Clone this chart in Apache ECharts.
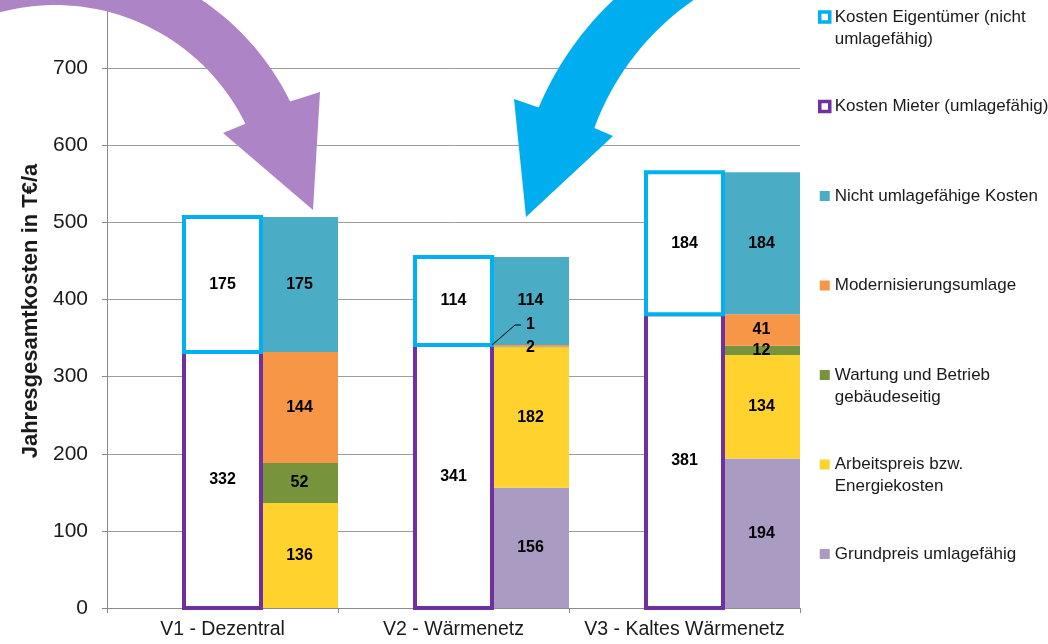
<!DOCTYPE html>
<html>
<head>
<meta charset="utf-8">
<script src="https://cdn.jsdelivr.net/npm/echarts@6.0.0/dist/echarts.min.js"></script>
<style>
  html, body { margin: 0; padding: 0; background: #ffffff; }
  #chart { width: 1048px; height: 644px; }
</style>
</head>
<body>
<div id="chart"></div>
<script>
// ---- data ---------------------------------------------------------------
const categories = ['V1 - Dezentral', 'V2 - Wärmenetz', 'V3 - Kaltes Wärmenetz'];

// left (outlined) column per variant
const kostenMieter      = [332, 341, 381];
const kostenEigentuemer = [175, 114, 184];

// right (coloured) column per variant, bottom to top
const grundpreis        = [0, 156, 194];
const arbeitspreis      = [136, 182, 134];
const wartung           = [52, 1, 12];
const modernisierung    = [144, 2, 41];
const nichtUmlagefaehig = [175, 114, 184];

const yMin = 0, yMax = 800, yStep = 100;

// ---- names & legend texts ----------------------------------------------
const N = {
  eigen:  'Kosten Eigentümer (nicht umlagefähig)',
  mieter: 'Kosten Mieter (umlagefähig)',
  nicht:  'Nicht umlagefähige Kosten',
  modern: 'Modernisierungsumlage',
  wart:   'Wartung und Betrieb gebäudeseitig',
  arbeit: 'Arbeitspreis bzw. Energiekosten',
  grund:  'Grundpreis umlagefähig'
};
// every legend entry gets three text rows so the icon sits on the first visible row
const legendText = {};
legendText[N.eigen]  = '\nKosten Eigentümer (nicht\numlagefähig)';
legendText[N.mieter] = '\nKosten Mieter (umlagefähig)\n';
legendText[N.nicht]  = '\nNicht umlagefähige Kosten\n';
legendText[N.modern] = '\nModernisierungsumlage\n';
legendText[N.wart]   = '\nWartung und Betrieb\ngebäudeseitig';
legendText[N.arbeit] = '\nArbeitspreis bzw.\nEnergiekosten';
legendText[N.grund]  = '\nGrundpreis umlagefähig\n';

const FONT = "'Liberation Sans', Arial, Helvetica, sans-serif";
const TEXT = '#1a1a1a';
const GRID = { left: 107, right: 248, top: -9, bottom: 36 };
const LABEL_FONT = "bold 16px 'Liberation Sans', Arial, sans-serif";

const barLabel = {
  show: true, position: 'inside', color: '#000',
  fontFamily: FONT, fontWeight: 'bold', fontSize: 16,
  formatter: p => (p.value ? String(p.value) : '')
};

// per-item label shifts for the tiny V2 segments
function shifted(values, shifts) {
  return values.map((v, i) => shifts[i] ? { value: v, label: { offset: shifts[i] } } : v);
}

function stackBar(name, stack, data, itemStyle) {
  return {
    name, type: 'bar', stack, data, itemStyle, label: barLabel,
    barGap: '0%', barCategoryGap: '0%'
  };
}

// outlined white box in the middle third of each category band,
// stroke centred on the box edges
function outlinedBox(stroke) {
  return function (params, api) {
    const cat = api.value(0), val = api.value(1), base = api.value(2);
    const pBase = api.coord([cat, base]);
    const pTop = api.coord([cat, base + val]);
    const band = api.size([1, 0])[0];
    const x = pBase[0] - band / 2 + band / 3;
    return {
      type: 'rect',
      shape: { x: x, y: pTop[1], width: band / 3, height: pBase[1] - pTop[1] },
      style: { fill: '#ffffff', stroke: stroke, lineWidth: 4 },
      textContent: { style: { text: String(val), fill: '#000', font: LABEL_FONT } },
      textConfig: { position: 'inside' }
    };
  };
}

// ---- decorative arrows ---------------------------------------------------
function arcPts(cx, cy, r, p0, p1, n) {
  const a0 = Math.atan2(p0[1] - cy, p0[0] - cx);
  const a1 = Math.atan2(p1[1] - cy, p1[0] - cx);
  const pts = [];
  for (let i = 0; i <= n; i++) {
    const a = a0 + (a1 - a0) * i / n;
    pts.push([cx + r * Math.cos(a), cy + r * Math.sin(a)]);
  }
  return pts;
}
const purpleArrow = [].concat(
  arcPts(55, 217, 262, [-60, -18], [293, 100], 48),
  [[320, 92], [313, 210], [223, 133]],
  arcPts(55, 217, 212, [247, 123], [-60, 39], 48)
);
const cyanArrow = [].concat(
  arcPts(830, 230, 316, [650, -30], [540, 108], 48),
  [[514, 99], [526, 217], [613, 136]],
  arcPts(845, 220, 267, [592, 127], [716, -14], 48)
);

// ---- chart ---------------------------------------------------------------
const chart = echarts.init(document.getElementById('chart'), null, { renderer: 'canvas' });

const mieterData = kostenMieter.map((v, i) => [i, v, 0]);
const eigenData = kostenEigentuemer.map((v, i) => [i, v, kostenMieter[i]]);

const option = {
  animation: false,
  backgroundColor: '#ffffff',
  textStyle: { fontFamily: FONT },
  grid: Object.assign({ containLabel: false, outerBoundsMode: 'none' }, GRID),
  legend: {
    orient: 'vertical', left: 818, top: -16, padding: 0,
    itemGap: 23.5, itemWidth: 10, itemHeight: 10, icon: 'rect',
    selectedMode: false,
    data: [
      { name: N.eigen,  itemStyle: { color: '#ffffff', borderColor: '#00B0F0', borderWidth: 3.5 } },
      { name: N.mieter, itemStyle: { color: '#ffffff', borderColor: '#7030A0', borderWidth: 3.5 } },
      { name: N.nicht }, { name: N.modern }, { name: N.wart },
      { name: N.arbeit }, { name: N.grund }
    ],
    formatter: n => legendText[n],
    textStyle: { fontFamily: FONT, fontSize: 17, lineHeight: 22, color: TEXT }
  },
  xAxis: {
    type: 'category', data: categories,
    axisLine: { lineStyle: { color: '#8a8a8a', width: 1 } },
    axisTick: { show: true, alignWithLabel: false, length: 5, lineStyle: { color: '#8a8a8a' } },
    axisLabel: { color: TEXT, fontFamily: FONT, fontSize: 19.5, margin: 12, interval: 0, hideOverlap: false },
    splitLine: { show: false }
  },
  yAxis: {
    type: 'value', min: yMin, max: yMax, interval: yStep,
    name: 'Jahresgesamtkosten in T€/a', nameLocation: 'middle', nameGap: 62,
    nameTextStyle: { color: TEXT, fontFamily: FONT, fontSize: 22, fontWeight: 'bold', padding: [0, 23, 0, 0] },
    axisLine: { show: true, lineStyle: { color: '#8a8a8a', width: 1 } },
    axisTick: { show: true, length: 5, lineStyle: { color: '#8a8a8a' } },
    axisLabel: { color: TEXT, fontFamily: FONT, fontSize: 21, margin: 19 },
    splitLine: { show: true, lineStyle: { color: '#9c9c9c', width: 1 } }
  },
  series: [
    // slot reservation: empty first third and outlined middle third of each band
    { name: '_pad', type: 'bar', stack: 'pad', data: ['-', '-', '-'], silent: true,
      barGap: '0%', barCategoryGap: '0%' },
    { name: '_owner', type: 'bar', stack: 'owner', data: ['-', '-', '-'], silent: true,
      barGap: '0%', barCategoryGap: '0%' },
    stackBar(N.grund,  'cost', grundpreis,   { color: '#A99BC1' }),
    stackBar(N.arbeit, 'cost', arbeitspreis, { color: '#FFD22E' }),
    stackBar(N.wart,   'cost', shifted(wartung, [null, [0, -22], null]), { color: '#77933C' }),
    stackBar(N.modern, 'cost', shifted(modernisierung, [null, [0, 2], null]), { color: '#F79646' }),
    stackBar(N.nicht,  'cost', nichtUmlagefaehig, { color: '#4BACC6' }),
    {
      name: N.mieter, type: 'custom', data: mieterData, encode: { x: 0, y: 1 },
      itemStyle: { color: '#ffffff', borderColor: '#7030A0', borderWidth: 4 },
      renderItem: outlinedBox('#7030A0'), clip: false, z: 3
    },
    {
      name: N.eigen, type: 'custom', data: eigenData, encode: { x: 0, y: 1 },
      itemStyle: { color: '#ffffff', borderColor: '#00B0F0', borderWidth: 4 },
      renderItem: outlinedBox('#00B0F0'), clip: false, z: 4
    }
  ]
};

chart.setOption(option);

// leader line for the small V2 label, anchored at the top left corner of the cost column
const p0 = chart.convertToPixel({ gridIndex: 0 }, [0, 0]);
const pV2 = chart.convertToPixel({ gridIndex: 0 }, [1, kostenMieter[1]]);
const band = pV2[0] - p0[0];
const lx = pV2[0] + band / 6;
const ly = pV2[1];

chart.setOption({
  graphic: {
    elements: [
      { type: 'polygon', z: 50, silent: true, shape: { points: purpleArrow }, style: { fill: '#AD85C6' } },
      { type: 'polygon', z: 50, silent: true, shape: { points: cyanArrow }, style: { fill: '#00AEEF' } },
      { type: 'polyline', z: 60, silent: true,
        shape: { points: [[lx, ly], [lx + 23, ly - 20], [lx + 29, ly - 20]] },
        style: { stroke: '#000', lineWidth: 1, fill: null } }
    ]
  }
});
</script>
</body>
</html>
